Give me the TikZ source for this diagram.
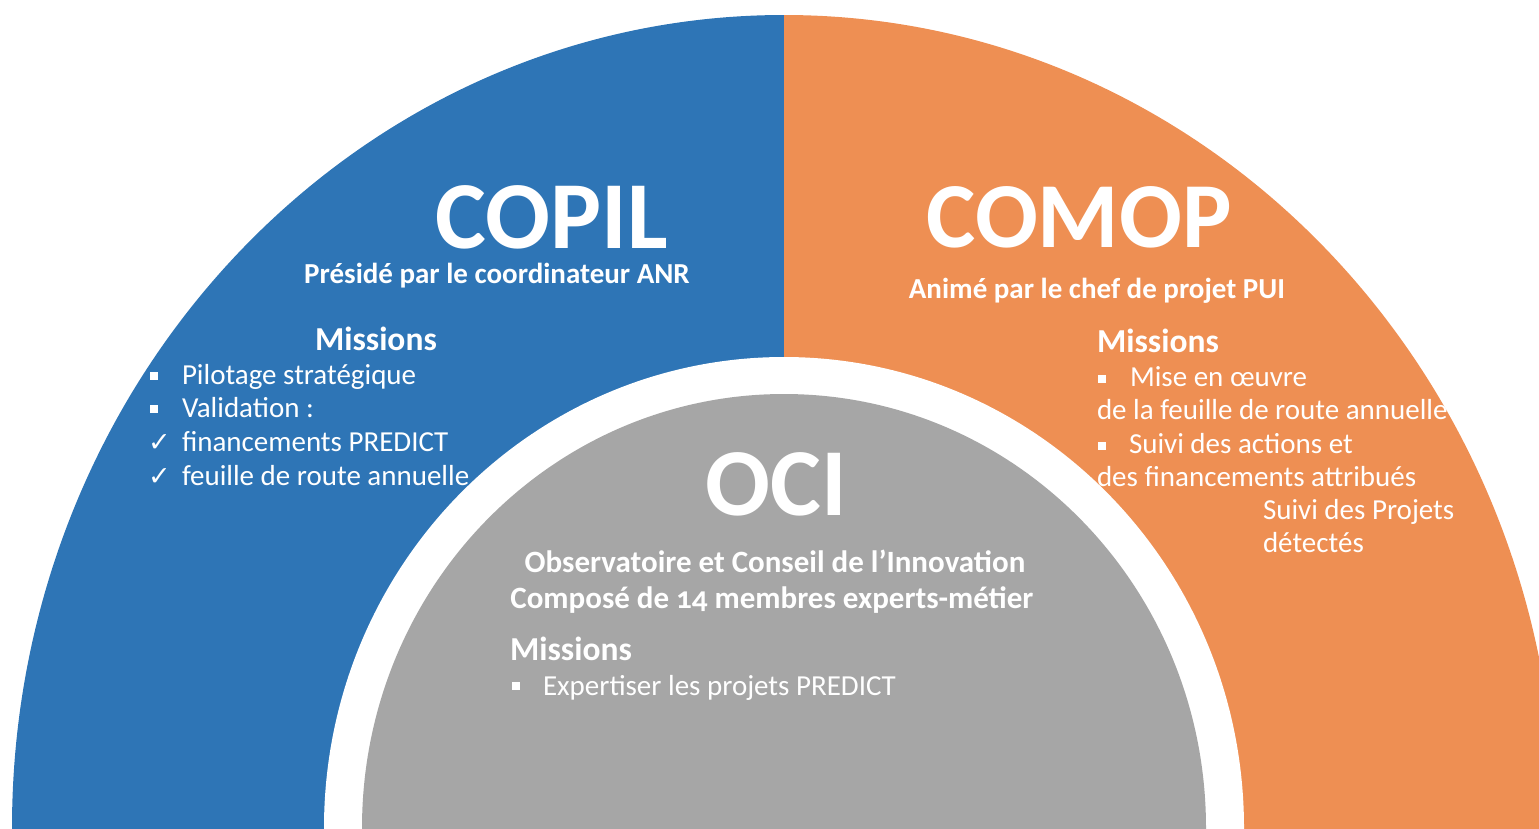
\documentclass[tikz,border=0pt]{standalone}
\usepackage{fontspec}
\setmainfont{Carlito}
\newfontfamily\symfont{DejaVu Sans}
\definecolor{copilblue}{HTML}{2E75B6}
\definecolor{comoporange}{HTML}{EE8F53}
\definecolor{ocigray}{HTML}{A6A6A6}
\begin{document}
\begin{tikzpicture}[x=1pt,y=-1pt,
  txt/.style={text=white,inner sep=0pt,outer sep=0pt},
  big/.style={txt,anchor=base,text depth=0pt,font=\bfseries\fontsize{96}{96}\selectfont},
  sub/.style={txt,anchor=base,text height=19pt,font=\bfseries\fontsize{29}{29}\selectfont},
  subo/.style={txt,anchor=base,font=\bfseries\fontsize{31}{31}\selectfont},
  mis/.style={txt,anchor=base west,font=\bfseries\fontsize{33.5}{33.5}\selectfont},
  item/.style={txt,anchor=base west,font=\fontsize{29}{29}\selectfont},
  sq/.style={fill=white,inner sep=0pt,minimum size=8pt,anchor=north west},
  chk/.style={txt,anchor=base west,font=\symfont\fontsize{27}{27}\selectfont}]
\useasboundingbox (0,0) rectangle (1539,828);
\begin{scope}
\clip (0,0) rectangle (1539,828);
\begin{scope}
\clip (0,0) rectangle (784,828);
\fill[copilblue] (784,828) ellipse[x radius=772,y radius=813];
\end{scope}
\begin{scope}
\clip (784,0) rectangle (1539,828);
\fill[comoporange] (784,828) ellipse[x radius=772,y radius=813];
\end{scope}
\fill[white] (784,828) ellipse[x radius=460,y radius=471];
\fill[ocigray] (784,828) ellipse[x radius=422,y radius=434];
\end{scope}

% COPIL
\node[big] (copil) at (552,248) {COPIL};
\node[sub] (copilsub) at (497,283) {Présidé par le coordinateur ANR};
\node[mis] (copilmis) at (315,350) {Missions};
\node[sq] (b1) at (150,372) {};
\node[item] (c1) at (182,384) {Pilotage stratégique};
\node[sq] (b2) at (150,405) {};
\node[item] (c2) at (182,417) {Validation :};
\node[chk] (k1) at (148,451) {✓};
\node[item] (c3) at (182,451) {financements PREDICT};
\node[chk] (k2) at (148,485) {✓};
\node[item] (c4) at (182,485) {feuille de route annuelle};

% COMOP
\node[big,font=\bfseries\fontsize{93}{93}\selectfont] (comop) at (1079,247) {COMOP};
\node[sub] (comopsub) at (1097,298) {Animé par le chef de projet PUI};
\node[mis] (comopmis) at (1097,352) {Missions};
\node[sq,minimum size=7.5pt] (b3) at (1098,375) {};
\node[item] (o1) at (1130,386) {Mise en œuvre};
\node[item] (o2) at (1097,419) {de la feuille de route annuelle};
\node[sq,minimum size=7.5pt] (b4) at (1098,442) {};
\node[item] (o3) at (1129,453) {Suivi des actions et};
\node[item] (o4) at (1097,486) {des financements attribués};
\node[item] (o5) at (1263,519) {Suivi des Projets};
\node[item] (o6) at (1263,552) {détectés};

% OCI
\node[big] (oci) at (776,515) {OCI};
\node[subo] (ocisub1) at (775,572) {Observatoire et Conseil de l’Innovation};
\node[subo] (ocisub2) at (772,608) {Composé de {\addfontfeatures{Numbers=OldStyle}14} membres experts-métier};
\node[mis] (ocimis) at (510,660) {Missions};
\node[sq,minimum size=7.5pt] (b5) at (512,682) {};
\node[item] (g1) at (543,695) {Expertiser les projets PREDICT};
\end{tikzpicture}
\end{document}
